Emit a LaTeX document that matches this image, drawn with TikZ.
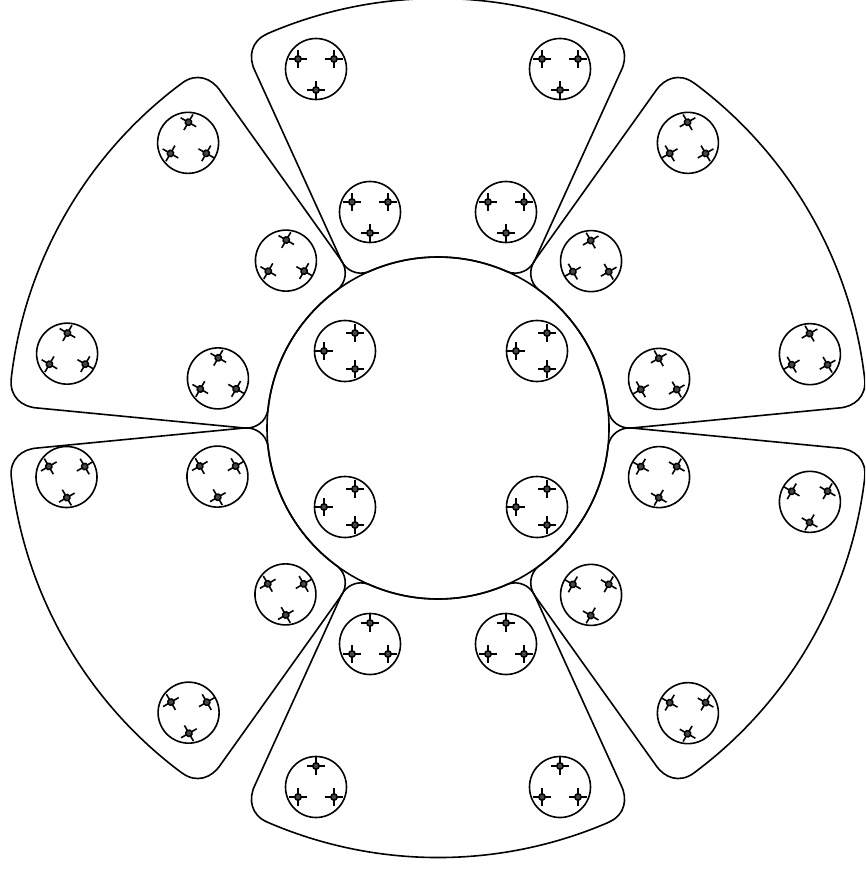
\documentclass[tikz,border=0pt]{standalone}
\tikzset{
  outline/.style={draw=black,line width=1.6pt,fill=none,line join=round},
  clusterring/.style={draw=black,line width=1.6pt},
  crossarm/.style={draw=black,line width=1.6pt},
  crosshub/.style={draw=black,line width=1.5pt,fill=black!72}
}
% one cluster: ring with three crossed dots, triangle pointing to local +y-down
\newcommand{\cluster}[3]{%
  \begin{scope}[shift={(#1,#2)},rotate=#3]
    \draw[clusterring] (0,0) circle (30.5);
    \foreach \dx/\dy in {-18/-10,18/-10,0/21}{
      \draw[crossarm] (\dx-9,\dy) -- (\dx+9,\dy) (\dx,\dy-9) -- (\dx,\dy+9);
      \draw[crosshub] (\dx,\dy) circle (3.2);
    }
  \end{scope}}
\begin{document}
\begin{tikzpicture}[x=1pt,y=-1pt]
\useasboundingbox (0,0) rectangle (865,870);
\clip (0,0) rectangle (865,870);
\fill[white] (0,0) rectangle (865,870);
% six sectors, drawn in the frame of the top one, centre at the origin
\foreach \a in {0,60,120,180,240,300}{
  \begin{scope}[shift={(438,428)},rotate=\a]
    \draw[outline]
      (-171,-394) .. controls (-187,-387) and (-190,-371) .. (-183,-357)
      -- (-96.5,-167)
      .. controls (-92,-158) and (-81,-152) .. (-69.6,-156.2)
      arc[start angle=-114,end angle=-66,radius=171]
      .. controls (81,-152) and (92,-158) .. (96.5,-167)
      -- (183,-357)
      .. controls (190,-371) and (187,-387) .. (171,-394)
      arc[start angle=-66.54,end angle=-113.46,radius=430];
  \end{scope}
}
% centre circle
\draw[outline] (438,428) circle (171);
\cluster{345}{351}{-90}
\cluster{537}{351}{-90}
\cluster{345}{507}{-90}
\cluster{537}{507}{-90}
% clusters repeated round the sectors
\foreach \a/\ox/\oy in {0/0/0,60/1/-0.5,120/0.5/-0.5,180/0/0,240/0/0,300/0/0}{
  \begin{scope}[shift={(438+\ox,428+\oy)},rotate=\a]
    \cluster{-122}{-359}{0}
    \cluster{-68}{-216}{0}
    \cluster{68}{-216}{0}
  \end{scope}
}
\foreach \a in {0,60,180,240,300}{
  \begin{scope}[shift={(438,428)},rotate=\a]
    \cluster{122}{-359}{0}
  \end{scope}
}
% the one cluster of the lower left sector that stands out of step
\cluster{66.5}{477}{120}
\end{tikzpicture}
\end{document}
